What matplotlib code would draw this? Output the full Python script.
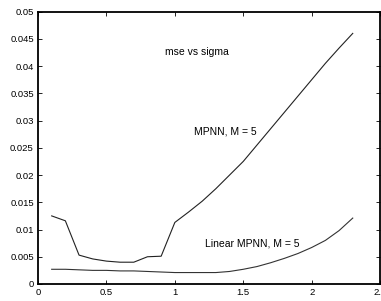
import matplotlib
matplotlib.use("Agg")
import matplotlib.pyplot as plt
from matplotlib.ticker import FuncFormatter

sigma = [0.1, 0.2, 0.3, 0.4, 0.5, 0.6, 0.7, 0.8, 0.9, 1.0, 1.1, 1.2, 1.3, 1.4,
         1.5, 1.6, 1.7, 1.8, 1.9, 2.0, 2.1, 2.2, 2.3]
mse_mpnn = [0.0125, 0.0116, 0.0053, 0.0046, 0.0042, 0.0040, 0.0040, 0.0050, 0.0051,
            0.0113, 0.0132, 0.0152, 0.0175, 0.0200, 0.0225, 0.0255, 0.0285, 0.0315,
            0.0345, 0.0375, 0.0405, 0.0433, 0.0460]
mse_linear = [0.0027, 0.0027, 0.0026, 0.0025, 0.0025, 0.0024, 0.0024, 0.0023, 0.0022,
              0.0021, 0.0021, 0.0021, 0.0021, 0.0023, 0.0027, 0.0032, 0.0039, 0.0047,
              0.0056, 0.0067, 0.0080, 0.0098, 0.0121]

plt.rcParams['font.family'] = ['Liberation Sans', 'DejaVu Sans']

fig = plt.figure(figsize=(3.81, 3.01), dpi=100)
ax = fig.add_axes([0.0997, 0.0565, 0.898, 0.905])

ax.plot(sigma, mse_mpnn, color='#222222', linewidth=0.8)
ax.plot(sigma, mse_linear, color='#333333', linewidth=0.8)

ax.text(0.93, 0.0426, 'mse vs sigma', fontsize=7.5, va='center')
ax.text(1.14, 0.028, 'MPNN, M = 5', fontsize=7.5, va='center')
ax.text(1.22, 0.0075, 'Linear MPNN, M = 5', fontsize=7.5, va='center')

ax.set_xlim(0, 2.5)
ax.set_ylim(0, 0.05)
ax.set_xticks([0, 0.5, 1, 1.5, 2, 2.5])
ax.set_yticks([0, 0.005, 0.01, 0.015, 0.02, 0.025, 0.03, 0.035, 0.04, 0.045, 0.05])
ax.xaxis.set_major_formatter(FuncFormatter(lambda v, p: '%g' % v))
ax.yaxis.set_major_formatter(FuncFormatter(lambda v, p: '%g' % v))
ax.tick_params(direction='in', length=3, width=0.6, labelsize=6.8,
               top=True, right=True, pad=3)
for s in ax.spines.values():
    s.set_linewidth(1.3)

fig.savefig('out.png', dpi=100)
